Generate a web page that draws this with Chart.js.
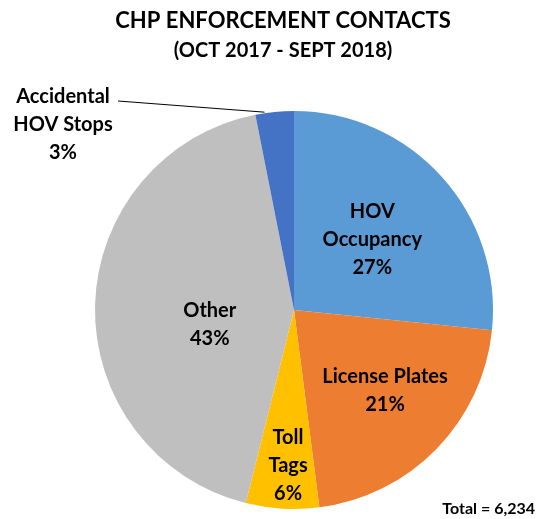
<!DOCTYPE html>
<html>
<head>
<meta charset="utf-8">
<script src="https://cdn.jsdelivr.net/npm/chart.js@4"></script>
<style>
  html, body { margin: 0; padding: 0; background: #fff; }
  #wrap { width: 542px; height: 519px; position: relative; }
</style>
</head>
<body>
<div id="wrap"><canvas id="pieChart"></canvas></div>
<script>
/* ── data ── */
var categories = ['HOV Occupancy', 'License Plates', 'Toll Tags', 'Other', 'Accidental HOV Stops'];
var labelLines = [['HOV', 'Occupancy'], ['License Plates'], ['Toll', 'Tags'], ['Other'], ['Accidental', 'HOV Stops']];
var contacts   = [1660, 1330, 370, 2680, 194];
var titleLines = ['CHP ENFORCEMENT CONTACTS', '(OCT 2017 - SEPT 2018)'];
var totalText  = 'Total = 6,234';

var COLORS = ['#5b9bd5', '#ed7d31', '#ffc000', '#bfbfbf', '#4472c4'];
var FONT = 'Lato, "Open Sans", sans-serif';

/* label placement: fraction of radius along slice mid-angle, plus angle tweak (rad) */
var LABEL_POS = [
  { r: 0.53, da: 0 },
  { r: 0.61, da: -0.05 },
  { r: 0.78, da: -0.02 },
  { r: 0.43, da: -0.2 },
  null
];

var total = contacts.reduce(function (a, b) { return a + b; }, 0);

var labelPlugin = {
  id: 'sliceLabels',
  afterDraw: function (chart) {
    var ctx = chart.ctx;
    var meta = chart.getDatasetMeta(0);
    ctx.save();
    ctx.fillStyle = '#000';
    ctx.textAlign = 'center';
    ctx.textBaseline = 'middle';

    // title
    ctx.font = 'bold 22px ' + FONT;
    ctx.fillText(titleLines[0], 283, 21);
    ctx.font = 'bold 20px ' + FONT;
    ctx.fillText(titleLines[1], 283, 51);

    ctx.font = 'bold 20px ' + FONT;
    var lh = 28;
    meta.data.forEach(function (arc, i) {
      var pct = Math.round(contacts[i] / total * 100) + '%';
      var lines = labelLines[i].concat([pct]);
      var p = arc.getProps(['x', 'y', 'startAngle', 'endAngle', 'outerRadius'], true);
      var mid = (p.startAngle + p.endAngle) / 2;
      var cx, cy;
      if (LABEL_POS[i]) {
        var a = mid + LABEL_POS[i].da;
        cx = p.x + Math.cos(a) * p.outerRadius * LABEL_POS[i].r;
        cy = p.y + Math.sin(a) * p.outerRadius * LABEL_POS[i].r;
      } else {
        // outside label with leader line
        cx = 63; cy = 125;
        var ex = p.x + Math.cos(mid - 0.05) * (p.outerRadius + 1);
        var ey = p.y + Math.sin(mid - 0.05) * (p.outerRadius + 1);
        ctx.strokeStyle = '#000';
        ctx.lineWidth = 1;
        ctx.beginPath();
        ctx.moveTo(118, 101);
        ctx.lineTo(ex, ey);
        ctx.stroke();
      }
      var y0 = cy - (lines.length - 1) * lh / 2;
      lines.forEach(function (t, k) { ctx.fillText(t, cx, y0 + k * lh); });
    });

    ctx.font = 'bold 16px ' + FONT;
    ctx.textAlign = 'right';
    ctx.fillText(totalText, 535, 509);
    ctx.restore();
  }
};

new Chart(document.getElementById('pieChart'), {
  type: 'pie',
  data: {
    labels: categories,
    datasets: [{
      data: contacts,
      backgroundColor: COLORS,
      borderWidth: 0,
    }],
  },
  options: {
    responsive: true,
    maintainAspectRatio: false,
    animation: false,
    layout: { padding: { top: 111, bottom: 10, left: 46, right: 0 } },
    plugins: {
      legend: { display: false },
      tooltip: { enabled: false },
      title: { display: false },
    },
  },
  plugins: [labelPlugin],
});
</script>
</body>
</html>
